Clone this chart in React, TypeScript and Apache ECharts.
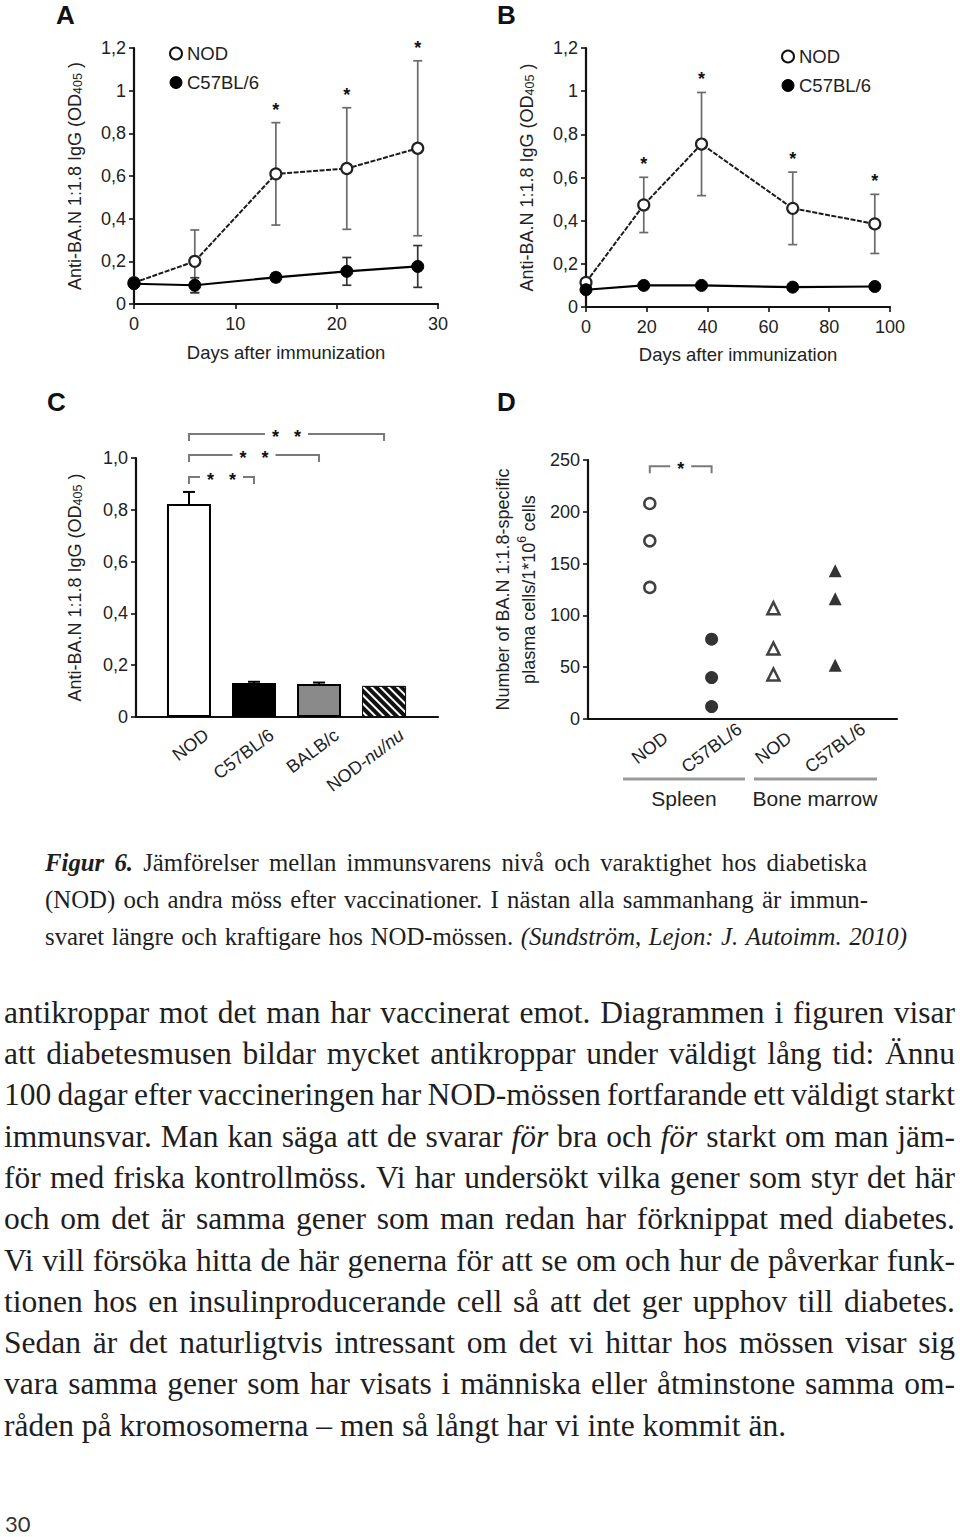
import React, { useEffect, useRef } from "react";
import * as echarts from "echarts";

const SANS = "Liberation Sans";
const SERIF = "Liberation Serif";
const INK = "#1e1e1e";
const TICK_FS = 18;
const NAME_FS = 18.5;

// ---------- Panel A ----------
const aDays = [0, 6, 14, 21, 28];
const aNOD = [0.1, 0.2, 0.61, 0.635, 0.73];
const aNODErr = [0, 0.147, 0.24, 0.285, 0.41];
const aC57 = [0.095, 0.088, 0.125, 0.153, 0.176];
const aC57Err = [0, 0.035, 0.02, 0.065, 0.098];
const aSignificant = [false, false, true, true, true];

// ---------- Panel B ----------
const bDays = [0, 19, 38, 68, 95];
const bNOD = [0.114, 0.473, 0.755, 0.457, 0.385];
const bNODErr = [0, 0.128, 0.239, 0.168, 0.137];
const bC57 = [0.08, 0.1, 0.1, 0.092, 0.095];
const bC57Err = [0, 0, 0, 0, 0];
const bSignificant = [false, true, true, true, true];

// ---------- Panel C ----------
const cStrains = ["NOD", "C57BL/6", "BALB/c", "NOD-nu/nu"];
const cMeans = [0.822, 0.131, 0.127, 0.12];
const cErr = [0.047, 0.005, 0.006, 0];
const cBracketFrom = [0, 0, 0];
const cBracketTo = [1, 2, 3];
const cBracketLevel = [0.927, 1.012, 1.093];

// ---------- Panel D ----------
const dGroups = ["NOD", "C57BL/6", "NOD", "C57BL/6"];
const dTissues = ["Spleen", "Bone marrow"];
const dSpleenNOD = [208, 172, 127];
const dSpleenC57 = [77, 40, 12];
const dMarrowNOD = [107, 68, 43];
const dMarrowC57 = [143, 116, 52];
const dBracketLevel = 244;

// ---------- Text ----------
const captionLines = [
  "^Figur^ ^6.^ Jämförelser mellan immunsvarens nivå och varaktighet hos diabetiska",
  "(NOD) och andra möss efter vaccinationer. I nästan alla sammanhang är immun-",
  "svaret längre och kraftigare hos NOD-mössen. _(Sundström,_ _Lejon:_ _J._ _Autoimm._ _2010)_",
];
const bodyLines = [
  "antikroppar mot det man har vaccinerat emot. Diagrammen i figuren visar",
  "att diabetesmusen bildar mycket antikroppar under väldigt lång tid: Ännu",
  "100 dagar efter vaccineringen har NOD-mössen fortfarande ett väldigt starkt",
  "immunsvar. Man kan säga att de svarar _för_ bra och _för_ starkt om man jäm-",
  "för med friska kontrollmöss. Vi har undersökt vilka gener som styr det här",
  "och om det är samma gener som man redan har förknippat med diabetes.",
  "Vi vill försöka hitta de här generna för att se om och hur de påverkar funk-",
  "tionen hos en insulinproducerande cell så att det ger upphov till diabetes.",
  "Sedan är det naturligtvis intressant om det vi hittar hos mössen visar sig",
  "vara samma gener som har visats i människa eller åtminstone samma om-",
  "råden på kromosomerna – men så långt har vi inte kommit än.",
];
const pageNumber = "30";

type Tok = { t: string; style: string; weight: string };
function parseTok(w: string): Tok {
  if (w.length > 2 && w.startsWith("^") && w.endsWith("^")) return { t: w.slice(1, -1), style: "italic", weight: "bold" };
  if (w.length > 2 && w.startsWith("_") && w.endsWith("_")) return { t: w.slice(1, -1), style: "italic", weight: "normal" };
  return { t: w, style: "normal", weight: "normal" };
}

function measureLine(ctx: CanvasRenderingContext2D, line: string, family: string, size: number) {
  const toks = line.split(" ").map(parseTok);
  const widths = toks.map((t) => {
    ctx.font = `${t.style} ${t.weight} ${size}px "${family}"`;
    return ctx.measureText(t.t).width;
  });
  ctx.font = `normal normal ${size}px "${family}"`;
  const space = ctx.measureText(" ").width;
  return { toks, widths, space };
}

function fitSize(ctx: CanvasRenderingContext2D, lines: string[], family: string, x0: number, ends: (number | null)[]) {
  let best = 1000;
  lines.forEach((l, i) => {
    const e = ends[i];
    if (e == null) return;
    const m = measureLine(ctx, l, family, 100);
    const nat = m.widths.reduce((a, b) => a + b, 0) + m.space * (m.toks.length - 1);
    best = Math.min(best, (100 * (e - x0)) / nat);
  });
  return best;
}

function layoutText(
  ctx: CanvasRenderingContext2D,
  lines: string[],
  family: string,
  size: number,
  x0: number,
  ends: (number | null)[],
  base0: number,
  lead: number,
  color: string
) {
  const els: any[] = [];
  lines.forEach((line, li) => {
    const { toks, widths, space } = measureLine(ctx, line, family, size);
    const end = ends[li];
    const total = widths.reduce((a, b) => a + b, 0);
    const gap = end != null && toks.length > 1 ? (end - x0 - total) / (toks.length - 1) : space;
    let x = x0;
    const y = base0 + li * lead - 0.34 * size;
    toks.forEach((t, i) => {
      els.push({
        type: "text",
        x,
        y,
        silent: true,
        style: {
          text: t.t,
          fontFamily: family,
          fontSize: size,
          fontStyle: t.style,
          fontWeight: t.weight,
          fill: color,
          align: "left",
          verticalAlign: "middle",
        },
      });
      x += widths[i] + gap;
    });
  });
  return els;
}

const commaFmt = (v: number) => (v === 0 ? "0" : String(+v.toFixed(1)).replace(".", ","));
const commaFmt1 = (v: number) => (v === 0 ? "0" : v.toFixed(1).replace(".", ","));

const odName = "Anti-BA.N 1:1.8 IgG (OD{s|405} )";
const odRich = { s: { fontSize: 12.5, fontFamily: SANS, color: "#222", verticalAlign: "bottom" } };

function axisCommon() {
  return {
    axisLine: { show: true, lineStyle: { color: "#111", width: 2.2 } },
    axisTick: { show: true, inside: false, length: 5, lineStyle: { color: "#111", width: 1.6 } },
    splitLine: { show: false },
    axisLabel: { fontSize: TICK_FS, fontFamily: SANS, color: "#222" },
    nameTextStyle: { fontSize: NAME_FS, fontFamily: SANS, color: "#222" },
  };
}

function errSeries(xi: number, xs: number[], ys: number[], errs: number[], color: string, capW: number) {
  return {
    type: "custom",
    xAxisIndex: xi,
    yAxisIndex: xi,
    z: 1,
    silent: true,
    data: xs.map((x, i) => [x, ys[i], errs[i]]),
    renderItem: (_p: any, api: any) => {
      const x = api.value(0);
      const y = api.value(1);
      const e = api.value(2);
      if (!e) return { type: "group", children: [] };
      const top = api.coord([x, y + e]);
      const bot = api.coord([x, y - e]);
      const st = { stroke: color, lineWidth: 1.7 };
      return {
        type: "group",
        children: [
          { type: "line", shape: { x1: top[0], y1: top[1], x2: bot[0], y2: bot[1] }, style: st },
          { type: "line", shape: { x1: top[0] - capW, y1: top[1], x2: top[0] + capW, y2: top[1] }, style: st },
          { type: "line", shape: { x1: bot[0] - capW, y1: bot[1], x2: bot[0] + capW, y2: bot[1] }, style: st },
        ],
      };
    },
  };
}

function starSeries(xi: number, xs: number[], ys: number[], errs: number[], sig: boolean[]) {
  const data = xs.map((x, i) => [x, ys[i] + errs[i], sig[i] ? 1 : 0]);
  return {
    type: "custom",
    xAxisIndex: xi,
    yAxisIndex: xi,
    z: 5,
    silent: true,
    data,
    renderItem: (_p: any, api: any) => {
      if (!api.value(2)) return { type: "group", children: [] };
      const p = api.coord([api.value(0), api.value(1)]);
      return {
        type: "text",
        x: p[0],
        y: p[1] - 13,
        style: { text: "*", fontSize: 18, fontFamily: SANS, fontWeight: "bold", fill: "#111", align: "center", verticalAlign: "middle" },
      };
    },
  };
}

function bracketSeries(xi: number, froms: number[], tos: number[], levels: number[], label: string) {
  return {
    type: "custom",
    xAxisIndex: xi,
    yAxisIndex: xi,
    z: 5,
    silent: true,
    clip: false,
    data: froms.map((f, i) => [f + 1, tos[i] + 1, levels[i]]),
    renderItem: (_p: any, api: any) => {
      const a = api.coord([api.value(0), api.value(2)]);
      const b = api.coord([api.value(1), api.value(2)]);
      const st: any = { stroke: "#7a7a7a", lineWidth: 2, fill: "none" };
      return {
        type: "group",
        children: [
          { type: "polyline", shape: { points: [[a[0], a[1] + 7], [a[0], a[1]], [b[0], b[1]], [b[0], b[1] + 7]] }, style: st },
          {
            type: "text",
            x: (a[0] + b[0]) / 2,
            y: a[1] + 3,
            style: {
              text: label,
              fontSize: 18,
              fontFamily: SANS,
              fontWeight: "bold",
              fill: "#111",
              align: "center",
              verticalAlign: "middle",
              backgroundColor: "#fff",
              padding: [0, 7],
            },
          },
        ],
      };
    },
  };
}

export default function App() {
  const ref = useRef<HTMLDivElement>(null);
  useEffect(() => {
    if (!ref.current) return;
    const chart = echarts.init(ref.current, null, { renderer: "svg" });
    const ctx = document.createElement("canvas").getContext("2d")!;

    const capEnds = [867, 868, 907];
    const capSize = fitSize(ctx, captionLines, SERIF, 45, capEnds) * 0.985;
    const bodyEnds = bodyLines.map((_, i) => (i < bodyLines.length - 1 ? 955 : null));
    const bodySize = fitSize(ctx, bodyLines, SERIF, 4, bodyEnds) * 1.015;
    const textEls = [
      ...layoutText(ctx, captionLines, SERIF, capSize, 45, capEnds, 871, 37.2, INK),
      ...layoutText(ctx, bodyLines, SERIF, bodySize, 4, bodyEnds, 1023, 41.3, INK),
    ];

    const panelLetter = (t: string, x: number, y: number) => ({
      type: "text",
      x,
      y,
      silent: true,
      style: { text: t, fontFamily: SANS, fontWeight: "bold", fontSize: 26, fill: "#111", align: "left", verticalAlign: "top" },
    });

    const legendFor = (left: number, top: number) => ({
      left,
      top,
      padding: 0,
      orient: "vertical",
      itemWidth: 12,
      itemHeight: 12,
      itemGap: 10,
      selectedMode: false,
      textStyle: { fontSize: NAME_FS, fontFamily: SANS, color: "#222" },
      data: [
        { name: "NOD", icon: "circle", itemStyle: { color: "#fff", borderColor: "#111", borderWidth: 2 } },
        { name: "C57BL/6", icon: "circle", itemStyle: { color: "#000", borderColor: "#000", borderWidth: 1 } },
      ],
    });

    const cStyles = [
      { color: "#fff", borderColor: "#000", borderWidth: 2 },
      { color: "#000", borderColor: "#000", borderWidth: 2 },
      { color: "#8a8a8a", borderColor: "#000", borderWidth: 2 },
      {
        color: "#111",
        borderColor: "#111",
        borderWidth: 1,
        decal: { symbol: "rect", symbolSize: 1, color: "#fff", dashArrayX: [1, 0], dashArrayY: [2, 4], rotation: Math.PI / 4 },
      },
    ];

    const cOff = 0.27;

    const yName = (gap: number) => ({
      name: odName,
      nameLocation: "middle",
      nameRotate: 90,
      nameGap: gap,
      nameTextStyle: { fontSize: 18, fontFamily: SANS, color: "#222", rich: odRich },
    });

    const nodLine = { color: "#1a1a1a", width: 2, type: [5, 1.5] };

    const option: any = {
      animation: false,
      backgroundColor: "#fff",
      textStyle: { fontFamily: SANS },
      grid: [
        { left: 134, top: 48, width: 304, height: 256 },
        { left: 586, top: 48, width: 304, height: 259 },
        { left: 136, top: 458, width: 302, height: 259 },
        { left: 588, top: 460, width: 309, height: 259 },
      ],
      legend: [legendFor(169, 44), legendFor(781, 47)],
      xAxis: [
        {
          ...axisCommon(),
          type: "value",
          gridIndex: 0,
          min: 0,
          max: 30,
          interval: 10,
          axisLabel: { ...axisCommon().axisLabel, margin: 11 },
          name: "Days after immunization",
          nameLocation: "middle",
          nameGap: 39,
        },
        {
          ...axisCommon(),
          type: "value",
          gridIndex: 1,
          min: 0,
          max: 100,
          interval: 20,
          axisLabel: { ...axisCommon().axisLabel, margin: 11 },
          name: "Days after immunization",
          nameLocation: "middle",
          nameGap: 38,
        },
        {
          ...axisCommon(),
          type: "value",
          gridIndex: 2,
          min: 0.185,
          max: 4.83,
          axisTick: { show: false },
          axisLabel: {
            ...axisCommon().axisLabel,
            customValues: cStrains.map((_, i) => i + 1 + cOff),
            rotate: 37,
            margin: 16,
            formatter: (v: number) => {
              const s = cStrains[Math.round(v - cOff) - 1] || "";
              return s === "NOD-nu/nu" ? "NOD-{i|nu/nu}" : s;
            },
            rich: { i: { fontStyle: "italic", fontSize: TICK_FS, fontFamily: SANS, color: "#222" } },
          },
        },
        {
          ...axisCommon(),
          type: "value",
          gridIndex: 3,
          min: 0,
          max: 5,
          axisTick: { show: false },
          axisLabel: {
            ...axisCommon().axisLabel,
            customValues: dGroups.map((_, i) => i + 1),
            rotate: 37,
            align: "center",
            verticalAlign: "middle",
            margin: 29,
            formatter: (v: number) => dGroups[Math.round(v) - 1] || "",
          },
        },
      ],
      yAxis: [
        {
          ...axisCommon(),
          type: "value",
          gridIndex: 0,
          min: 0,
          max: 1.2,
          interval: 0.2,
          axisLabel: { ...axisCommon().axisLabel, margin: 8, formatter: commaFmt },
          ...yName(50),
        },
        {
          ...axisCommon(),
          type: "value",
          gridIndex: 1,
          min: 0,
          max: 1.2,
          interval: 0.2,
          axisLabel: { ...axisCommon().axisLabel, margin: 8, formatter: commaFmt },
          ...yName(50),
        },
        {
          ...axisCommon(),
          type: "value",
          gridIndex: 2,
          min: 0,
          max: 1,
          interval: 0.2,
          axisLabel: { ...axisCommon().axisLabel, margin: 8, formatter: commaFmt1 },
          ...yName(52),
        },
        {
          ...axisCommon(),
          type: "value",
          gridIndex: 3,
          min: 0,
          max: 250,
          interval: 50,
          axisLabel: { ...axisCommon().axisLabel, margin: 8 },
          name: "Number of BA.N 1:1.8-specific\nplasma cells/1*10{p|6} cells",
          nameLocation: "middle",
          nameRotate: 90,
          nameGap: 46,
          nameTextStyle: {
            fontSize: 18,
            fontFamily: SANS,
            color: "#222",
            lineHeight: 26,
            rich: { p: { fontSize: 12, fontFamily: SANS, color: "#222", verticalAlign: "top", lineHeight: 26 } },
          },
        },
      ],
      series: [
        // Panel A
        errSeries(0, aDays, aNOD, aNODErr, "#6a6a6a", 4.5),
        errSeries(0, aDays, aC57, aC57Err, "#333", 4.5),
        {
          name: "NOD",
          type: "line",
          xAxisIndex: 0,
          yAxisIndex: 0,
          data: aDays.map((d, i) => [d, aNOD[i]]),
          symbol: "circle",
          symbolSize: 11,
          itemStyle: { color: "#fff", borderColor: "#222", borderWidth: 2.2 },
          lineStyle: nodLine,
          z: 3,
        },
        {
          name: "C57BL/6",
          type: "line",
          xAxisIndex: 0,
          yAxisIndex: 0,
          data: aDays.map((d, i) => [d, aC57[i]]),
          symbol: "circle",
          symbolSize: 12,
          itemStyle: { color: "#000", borderColor: "#000", borderWidth: 1 },
          lineStyle: { color: "#000", width: 2.2 },
          z: 4,
        },
        starSeries(0, aDays, aNOD, aNODErr, aSignificant),
        // Panel B
        errSeries(1, bDays, bNOD, bNODErr, "#6a6a6a", 4.5),
        errSeries(1, bDays, bC57, bC57Err, "#333", 4.5),
        {
          name: "NOD",
          type: "line",
          xAxisIndex: 1,
          yAxisIndex: 1,
          data: bDays.map((d, i) => [d, bNOD[i]]),
          symbol: "circle",
          symbolSize: 11,
          itemStyle: { color: "#fff", borderColor: "#222", borderWidth: 2.2 },
          lineStyle: nodLine,
          z: 3,
        },
        {
          name: "C57BL/6",
          type: "line",
          xAxisIndex: 1,
          yAxisIndex: 1,
          data: bDays.map((d, i) => [d, bC57[i]]),
          symbol: "circle",
          symbolSize: 12,
          itemStyle: { color: "#000", borderColor: "#000", borderWidth: 1 },
          lineStyle: { color: "#000", width: 2.2 },
          z: 4,
        },
        starSeries(1, bDays, bNOD, bNODErr, bSignificant),
        // Panel C
        {
          type: "bar",
          xAxisIndex: 2,
          yAxisIndex: 2,
          barWidth: 44,
          silent: true,
          data: cMeans.map((v, i) => ({ value: [i + 1, v], itemStyle: cStyles[i] })),
          z: 2,
        },
        {
          type: "custom",
          xAxisIndex: 2,
          yAxisIndex: 2,
          z: 3,
          silent: true,
          data: cMeans.map((v, i) => [i + 1, v, cErr[i]]),
          renderItem: (_p: any, api: any) => {
            const e = api.value(2);
            if (!e) return { type: "group", children: [] };
            const a = api.coord([api.value(0), api.value(1)]);
            const b = api.coord([api.value(0), api.value(1) + e]);
            const st = { stroke: "#000", lineWidth: 2 };
            return {
              type: "group",
              children: [
                { type: "line", shape: { x1: a[0], y1: a[1], x2: b[0], y2: b[1] }, style: st },
                { type: "line", shape: { x1: b[0] - 6, y1: b[1], x2: b[0] + 6, y2: b[1] }, style: st },
              ],
            };
          },
        },
        bracketSeries(2, cBracketFrom, cBracketTo, cBracketLevel, "*   *"),
        // Panel D
        {
          type: "scatter",
          xAxisIndex: 3,
          yAxisIndex: 3,
          data: dSpleenNOD.map((v) => [1, v]),
          symbol: "circle",
          symbolSize: 11,
          itemStyle: { color: "#fff", borderColor: "#111", borderWidth: 2.5 },
        },
        {
          type: "scatter",
          xAxisIndex: 3,
          yAxisIndex: 3,
          data: dSpleenC57.map((v) => [2, v]),
          symbol: "circle",
          symbolSize: 13,
          itemStyle: { color: "#000" },
        },
        {
          type: "scatter",
          xAxisIndex: 3,
          yAxisIndex: 3,
          data: dMarrowNOD.map((v) => [3, v]),
          symbol: "triangle",
          symbolSize: 12,
          itemStyle: { color: "#fff", borderColor: "#111", borderWidth: 2.5 },
        },
        {
          type: "scatter",
          xAxisIndex: 3,
          yAxisIndex: 3,
          data: dMarrowC57.map((v) => [4, v]),
          symbol: "triangle",
          symbolSize: 13,
          itemStyle: { color: "#000" },
        },
        bracketSeries(3, [0], [1], [dBracketLevel], "*"),
      ],
      graphic: [
        panelLetter("A", 56, 2),
        panelLetter("B", 497, 2),
        panelLetter("C", 47, 389),
        panelLetter("D", 497, 389),
        { type: "line", silent: true, shape: { x1: 623, y1: 779, x2: 745, y2: 779 }, style: { stroke: "#9a9a9a", lineWidth: 3 } },
        { type: "line", silent: true, shape: { x1: 754, y1: 779, x2: 877, y2: 779 }, style: { stroke: "#9a9a9a", lineWidth: 3 } },
        {
          type: "text",
          x: 684,
          y: 798,
          silent: true,
          style: { text: dTissues[0], fontFamily: SANS, fontSize: 21, fill: "#222", align: "center", verticalAlign: "middle" },
        },
        {
          type: "text",
          x: 815,
          y: 798,
          silent: true,
          style: { text: dTissues[1], fontFamily: SANS, fontSize: 21, fill: "#222", align: "center", verticalAlign: "middle" },
        },
        ...textEls,
        {
          type: "text",
          x: 5,
          y: 1523,
          silent: true,
          style: { text: pageNumber, fontFamily: "Lato", fontSize: 22, lineHeight: 22, fill: "#333", align: "left", verticalAlign: "middle" },
        },
      ],
    };
    chart.setOption(option);
    return () => chart.dispose();
  }, []);
  return <div ref={ref} style={{ position: "absolute", left: 0, top: 0, width: 960, height: 1537, background: "#fff" }} />;
}
